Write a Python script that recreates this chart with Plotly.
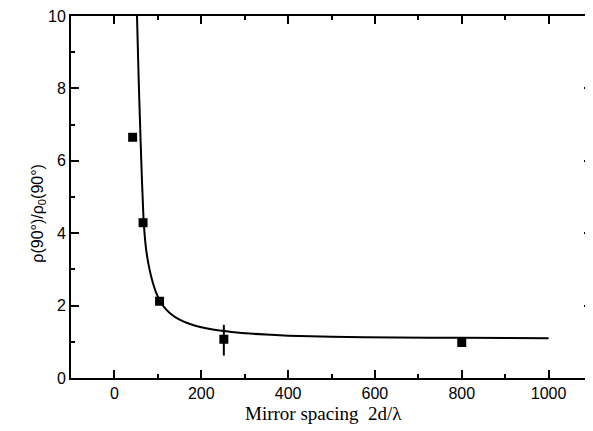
import plotly.graph_objects as go

# measured points
spacing = [42, 66, 104, 252, 800]
ratio = [6.65, 4.29, 2.12, 1.07, 0.98]
err_plus = [0, 0, 0, 0.40, 0]
err_minus = [0, 0, 0, 0.45, 0]

# fitted curve
fit_x = [52, 56, 61, 67, 73, 80, 88, 96, 104, 115, 128, 150, 174, 200, 230, 270, 320, 400, 500, 650, 800, 1000]
fit_y = [10.0, 8.2, 6.3, 4.4, 3.55, 3.05, 2.65, 2.36, 2.15, 1.95, 1.79, 1.61, 1.49, 1.40, 1.33, 1.27, 1.22, 1.17, 1.14, 1.12, 1.11, 1.10]

x_ticks = [0, 200, 400, 600, 800, 1000]
y_ticks = [0, 2, 4, 6, 8, 10]

fig = go.Figure()

fig.add_trace(
    go.Scatter(
        x=fit_x,
        y=fit_y,
        mode="lines",
        line=dict(color="black", width=2, shape="spline", smoothing=0.5),
        showlegend=False,
    )
)

fig.add_trace(
    go.Scatter(
        x=spacing,
        y=ratio,
        mode="markers",
        marker=dict(symbol="square", size=9, color="black"),
        error_y=dict(
            type="data",
            symmetric=False,
            array=err_plus,
            arrayminus=err_minus,
            color="black",
            thickness=2,
            width=0,
        ),
        showlegend=False,
    )
)

axis_common = dict(
    showline=True,
    linecolor="black",
    linewidth=2,
    mirror="ticks",
    ticks="inside",
    ticklen=8,
    tickwidth=2,
    tickcolor="black",
    showgrid=False,
    zeroline=False,
    automargin=False,
    ticklabeloverflow="allow",
    tickfont=dict(family="Liberation Sans", size=16, color="black"),
)

fig.update_xaxes(
    range=[-100, 1100],
    tickvals=x_ticks,
    minor=dict(dtick=100, ticks="inside", ticklen=4, tickwidth=2, tickcolor="black"),
    **axis_common,
)

fig.update_yaxes(
    range=[0, 10],
    tickvals=y_ticks,
    minor=dict(dtick=1, ticks="inside", ticklen=4, tickwidth=2, tickcolor="black"),
    **axis_common,
)

fig.add_annotation(
    text="Mirror spacing  2d/λ",
    xref="paper", yref="paper",
    x=0.485, y=-0.097,
    yanchor="middle",
    showarrow=False,
    font=dict(family="Liberation Serif", size=19, color="black"),
)

fig.add_annotation(
    text="ρ(90°)/ρ<sub>0</sub>(90°)",
    xref="paper", yref="paper",
    x=-0.084, y=0.456,
    textangle=-90,
    showarrow=False,
    font=dict(family="Liberation Sans", size=16, color="black"),
)

# page body adds an 8px offset, so the figure is a bit smaller than the window
fig.update_layout(
    width=585,
    height=423,
    margin=dict(l=63, r=1, t=8, b=53),
    plot_bgcolor="white",
    paper_bgcolor="white",
)

fig.write_html("out.html")
